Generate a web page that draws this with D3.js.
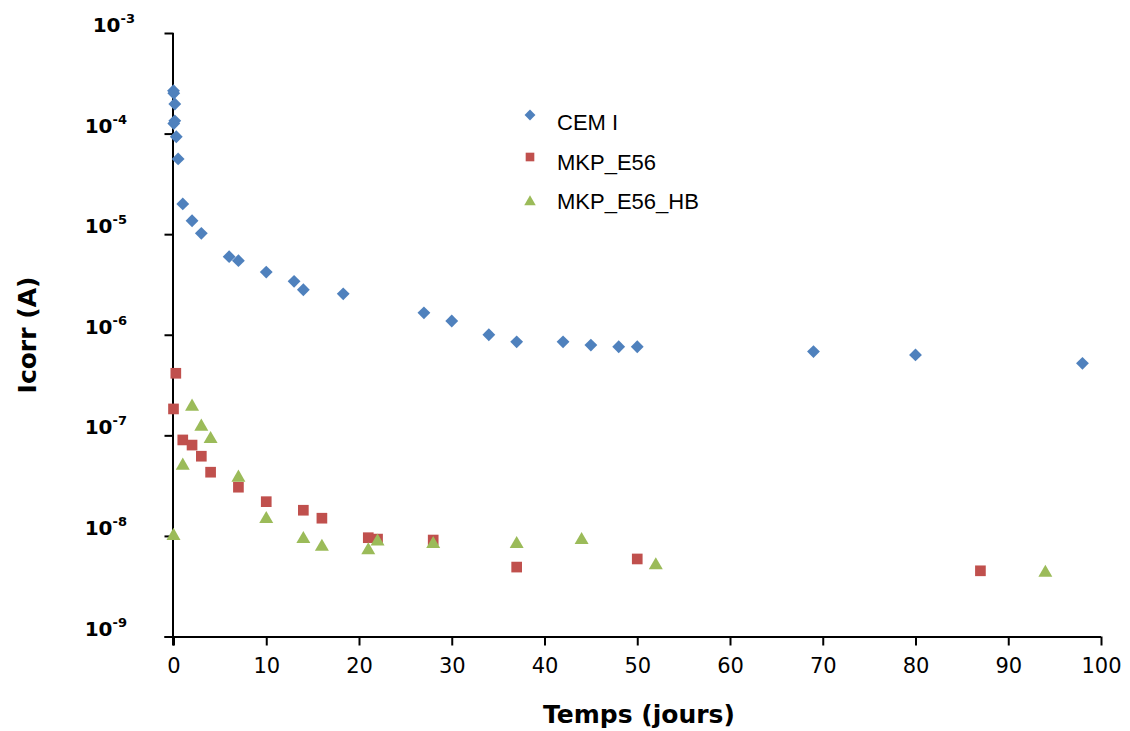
<!DOCTYPE html>
<html><head><meta charset="utf-8">
<script src="https://cdn.jsdelivr.net/npm/d3@7"></script>
<style>body{margin:0;background:#fff}svg{display:block}</style>
</head><body>
<script>
const cemX = [0, 0.03, 0.14, 0.14, 0.03, 0.3, 0.5, 1, 2, 3, 6, 7, 10, 13, 14, 18.3, 27, 30, 34, 37, 42, 45, 48, 50, 69, 80, 98];
const cemY = [2.67e-4, 2.52e-4, 1.97e-4, 1.34e-4, 1.26e-4, 9.3e-5, 5.6e-5, 2.0e-5, 1.36e-5, 1.02e-5, 5.97e-6, 5.45e-6, 4.2e-6, 3.4e-6, 2.8e-6, 2.55e-6, 1.65e-6, 1.37e-6, 1.0e-6, 8.5e-7, 8.5e-7, 7.9e-7, 7.6e-7, 7.6e-7, 6.8e-7, 6.3e-7, 5.2e-7];
const mkpX = [0.25, 0, 1, 2, 3, 4, 7, 10, 14, 16, 21, 22, 28, 37, 50, 87];
const mkpY = [4.14e-7, 1.83e-7, 9.0e-8, 8.0e-8, 6.2e-8, 4.3e-8, 3.05e-8, 2.19e-8, 1.8e-8, 1.5e-8, 9.6e-9, 9.3e-9, 9.1e-9, 4.9e-9, 5.9e-9, 4.5e-9];
const hbX = [0, 1, 2, 3, 4, 7, 10, 14, 16, 21, 22, 28, 37, 44, 52, 94];
const hbY = [1.0e-8, 5.0e-8, 1.93e-7, 1.22e-7, 9.2e-8, 3.8e-8, 1.47e-8, 9.3e-9, 7.8e-9, 7.2e-9, 8.8e-9, 8.3e-9, 8.3e-9, 9.1e-9, 5.1e-9, 4.3e-9];
const seriesNames = ["CEM I", "MKP_E56", "MKP_E56_HB"];
const xTicks = [0, 10, 20, 30, 40, 50, 60, 70, 80, 90, 100];
const yExps = [-3, -4, -5, -6, -7, -8, -9];
const xTitle = "Temps (jours)";
const yTitle = "Icorr (A)";

const W = 1130, H = 731;
const svg = d3.select("body").append("svg").attr("width", W).attr("height", H);
const x = d3.scaleLinear().domain([0, 100]).range([173.5, 1101]);
const y = d3.scaleLog().domain([1e-9, 1e-3]).range([636.5, 33]);

const colors = ["#4F81BD", "#C0504D", "#9BBB59"];
const symbols = [d3.symbolDiamond2, d3.symbolSquare2, d3.symbolTriangle2];

// axes
const xAxis = d3.axisBottom(x).tickValues(xTicks).tickSize(9).tickSizeOuter(0).tickFormat(d3.format("d"));
const gx = svg.append("g").attr("transform", `translate(0,${y(1e-9)})`).call(xAxis);
gx.select(".domain").attr("stroke", "#000").attr("stroke-width", 2).attr("d", `M${x(0)-9},0.5H${x(100)}`);
gx.selectAll(".tick line").attr("stroke", "#000").attr("stroke-width", 2);
gx.selectAll(".tick text").attr("font-family", "DejaVu Sans").attr("font-size", 21).attr("fill", "#000")
  .attr("dy", null).attr("y", 36);

const yAxis = d3.axisLeft(y).tickValues(yExps.map(e => Math.pow(10, e))).tickSize(9).tickSizeOuter(0).tickFormat("");
const gy = svg.append("g").attr("transform", `translate(${x(0)},0)`).call(yAxis);
gy.select(".domain").attr("stroke", "#000").attr("stroke-width", 2).attr("d", `M-0.5,${y(1e-3)}V${y(1e-9)+9}`);
gy.selectAll(".tick line").attr("stroke", "#000").attr("stroke-width", 2);

// y tick labels with superscripts
yExps.forEach(e => {
  const t = svg.append("text")
    .attr("x", e === -3 ? 135 : 127)
    .attr("y", y(Math.pow(10, e)) - 1)
    .attr("text-anchor", "end")
    .attr("font-family", "DejaVu Sans")
    .attr("font-weight", "bold")
    .attr("font-size", 20)
    .attr("fill", "#000");
  t.append("tspan").text("10");
  t.append("tspan").attr("dy", -9).attr("font-size", 13).text(String(e));
});

// axis titles
svg.append("text").attr("x", 639).attr("y", 723).attr("text-anchor", "middle")
  .attr("font-family", "DejaVu Sans").attr("font-weight", "bold").attr("font-size", 25).text(xTitle);
svg.append("text").attr("transform", "translate(36,335) rotate(-90)").attr("text-anchor", "middle")
  .attr("font-family", "DejaVu Sans").attr("font-weight", "bold").attr("font-size", 25).text(yTitle);

// data points
const data = [
  cemX.map((v, i) => [v, cemY[i]]),
  mkpX.map((v, i) => [v, mkpY[i]]),
  hbX.map((v, i) => [v, hbY[i]])
];
const sizes = [105, 145, 140];
data.forEach((pts, s) => {
  svg.append("g").selectAll("path").data(pts).join("path")
    .attr("transform", d => `translate(${x(d[0])},${y(d[1])})`)
    .attr("d", d3.symbol().type(symbols[s]).size(sizes[s]))
    .attr("fill", colors[s]);
});

// legend
const legMarkY = [115, 157, 202];
const legTextY = [130, 170, 209];
seriesNames.forEach((n, i) => {
  svg.append("path").attr("transform", `translate(530,${legMarkY[i]})`)
    .attr("d", d3.symbol().type(symbols[i]).size(i === 0 ? 75 : 95)).attr("fill", colors[i]);
  svg.append("text").attr("x", 557).attr("y", legTextY[i])
    .attr("font-family", "Liberation Sans, Arial").attr("font-size", 22).attr("fill", "#000").text(n);
});
</script>
</body></html>
